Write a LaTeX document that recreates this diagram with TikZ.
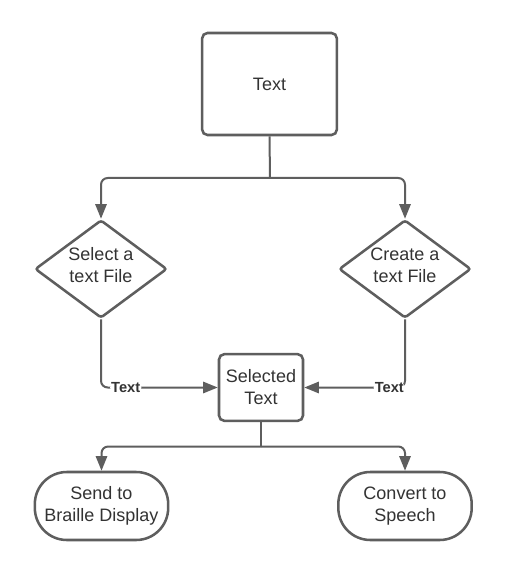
\documentclass[tikz,border=0pt]{standalone}
\usepackage{fontspec}
\setmainfont{Liberation Sans}
\usetikzlibrary{shapes.geometric,arrows.meta}
\definecolor{lc}{HTML}{5E5E5E}
\definecolor{tc}{HTML}{333333}
\tikzset{
  box/.style={draw=lc, line width=1.9pt, rounded corners=4pt, fill=white, text=tc,
    inner sep=0pt, align=center, font=\fontsize{13.5}{16.5}\selectfont},
  dia/.style={draw=lc, line width=1.9pt, diamond, rounded corners=2pt, fill=white, inner sep=0pt,
    minimum width=99pt, minimum height=73.5pt},
  lbl/.style={text=tc, align=center, font=\fontsize{13.5}{16.5}\selectfont, inner sep=0pt},
  term/.style={draw=lc, line width=1.9pt, rounded corners=24pt, fill=white, text=tc,
    inner sep=0pt, align=center, minimum width=100pt, minimum height=51pt,
    font=\fontsize{13.5}{16.5}\selectfont},
  conn/.style={draw=lc, line width=1.5pt, rounded corners=5pt,
    -{Triangle[length=11pt,width=8.5pt]}},
  plain/.style={draw=lc, line width=1.5pt, rounded corners=5pt},
  elab/.style={fill=white, text=tc, inner sep=0.8pt, font=\fontsize{11}{13}\selectfont\bfseries}
}
\begin{document}
\begin{tikzpicture}[x=0.75pt,y=-0.75pt]
\useasboundingbox (0,0) rectangle (506,573);
\fill[white] (0,0) rectangle (506,573);
% nodes
\node[box, minimum width=101pt, minimum height=76.5pt] (top) at (269.5,84) {Text};
\node[dia] (d1) at (101,269) {};
\node[lbl] (d1t) at (101,265) {Select a\\text File};
\node[dia] (d2) at (405,269) {};
\node[lbl] (d2t) at (405,265) {Create a\\text File};
\node[box, minimum width=63pt, minimum height=50pt] (sel) at (261,387.5) {Selected\\Text};
\node[term] (o1) at (101.5,506) {Send to\\Braille Display};
\node[term] (o2) at (405,506) {Convert to\\Speech};
% junction coordinates
\coordinate (j1) at (270,178);
\coordinate (j2) at (261,446.5);
% connectors
\draw[plain] (top.south) -- (j1);
\draw[conn] (j1) -| (d1.north);
\draw[conn] (j1) -| (d2.north);
\draw[conn] (d1.south) |- (sel.west) node[elab, pos=0.606] {Text};
\draw[conn] (d2.south) |- (sel.east) node[elab, pos=0.578] {Text};
\draw[plain] (sel.south) -- (j2);
\draw[conn] (j2) -| (o1.north);
\draw[conn] (j2) -| (o2.north);
\end{tikzpicture}
\end{document}
